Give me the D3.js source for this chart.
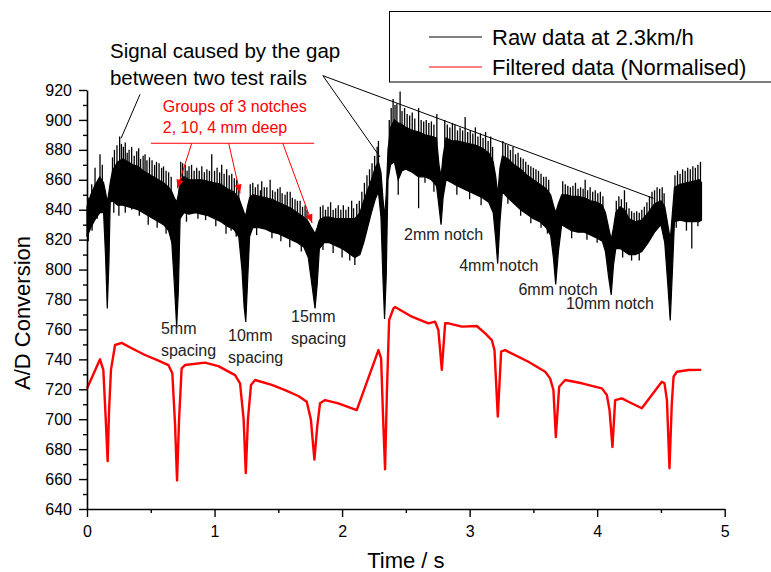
<!DOCTYPE html>
<html>
<head>
<meta charset="utf-8">
<script src="https://cdn.jsdelivr.net/npm/d3@7"></script>
<style>
    body { margin: 0; background: #fff; }
    #chart { width: 771px; height: 572px; }
    text { font-family: "Liberation Sans", Arial, sans-serif; }
</style>
</head>
<body>
<div id="chart"></div>
<script>

// raw signal: dense noise band (top / bottom edge) ...
const bandTime = [0.000, 0.030, 0.060, 0.100, 0.130, 0.145, 0.159, 0.172, 0.182, 0.200, 0.240, 0.280, 0.320, 0.360, 0.400, 0.440,
    0.480, 0.520, 0.560, 0.600, 0.640, 0.665, 0.685, 0.703, 0.716, 0.730, 0.760, 0.800, 0.850, 0.900, 0.950, 1.000,
    1.050, 1.100, 1.150, 1.190, 1.215, 1.232, 1.245, 1.258, 1.275, 1.300, 1.350, 1.400, 1.450, 1.500, 1.550, 1.600,
    1.650, 1.700, 1.735, 1.760, 1.788, 1.805, 1.822, 1.860, 1.900, 1.950, 2.000, 2.050, 2.100, 2.140, 2.170, 2.200,
    2.230, 2.260, 2.285, 2.305, 2.320, 2.333, 2.346, 2.360, 2.380, 2.410, 2.440, 2.470, 2.500, 2.550, 2.600, 2.650,
    2.700, 2.740, 2.760, 2.776, 2.792, 2.815, 2.860, 2.900, 2.950, 3.000, 3.050, 3.100, 3.150, 3.185, 3.205, 3.220,
    3.238, 3.257, 3.300, 3.350, 3.400, 3.450, 3.500, 3.550, 3.600, 3.635, 3.657, 3.675, 3.696, 3.722, 3.760, 3.800,
    3.850, 3.900, 3.950, 4.000, 4.040, 4.065, 4.090, 4.110, 4.128, 4.146, 4.180, 4.215, 4.250, 4.300, 4.350, 4.400,
    4.450, 4.500, 4.530, 4.554, 4.573, 4.590, 4.606, 4.650, 4.700, 4.750, 4.800, 4.818];
const bandTop = [842, 850, 856, 862, 858, 852, 845, 852, 858, 866, 872, 874, 872, 870, 869, 866,
    864, 862, 860, 858, 855, 852, 848, 845, 850, 860, 862, 860, 860, 860, 859, 858,
    857, 854, 852, 848, 842, 838, 836, 842, 848, 850, 849, 848, 847, 845, 843, 841,
    838, 835, 832, 828, 824, 828, 833, 835, 835, 834, 834, 834, 834, 838, 846, 853,
    860, 868, 872, 865, 848, 835, 850, 880, 895, 900, 898, 897, 895, 893, 892, 890,
    889, 888, 870, 862, 876, 888, 886, 886, 885, 884, 883, 881, 878, 872, 862, 850,
    868, 876, 874, 870, 867, 863, 860, 857, 854, 850, 843, 838, 844, 850, 850, 849,
    849, 848, 846, 845, 843, 838, 828, 820, 828, 838, 842, 840, 834, 832, 833, 838,
    844, 846, 842, 830, 820, 838, 855, 857, 858, 859, 860, 858];
const bandBottom = [822, 828, 833, 838, 838, 810, 774, 805, 845, 846, 843, 843, 842, 841, 840, 838,
    836, 834, 832, 830, 826, 818, 790, 762, 785, 834, 838, 837, 838, 837, 836, 834,
    832, 829, 827, 822, 800, 775, 765, 790, 822, 828, 828, 827, 825, 824, 822, 820,
    818, 815, 808, 792, 774, 790, 814, 818, 818, 816, 814, 811, 808, 810, 818, 828,
    838, 847, 852, 835, 795, 767, 795, 860, 870, 872, 860, 866, 867, 865, 862, 862,
    860, 856, 842, 830, 848, 860, 858, 856, 854, 852, 850, 848, 845, 838, 820, 804,
    832, 852, 848, 844, 840, 837, 834, 832, 828, 823, 808, 790, 812, 830, 828, 826,
    825, 825, 823, 821, 819, 812, 795, 783, 803, 814, 814, 812, 810, 810, 812, 818,
    825, 830, 818, 790, 766, 799, 832, 833, 832, 832, 832, 833];

// ... and the single noise spikes sticking out of it
const upSpikeTime = [0.010, 0.037, 0.063, 0.102, 0.120, 0.200, 0.215, 0.235, 0.256, 0.270, 0.285, 0.300, 0.315, 0.330, 0.350, 0.370,
    0.390, 0.405, 0.420, 0.440, 0.455, 0.470, 0.490, 0.510, 0.530, 0.545, 0.565, 0.585, 0.600, 0.620, 0.640, 0.660,
    0.735, 0.750, 0.770, 0.785, 0.800, 0.820, 0.840, 0.860, 0.880, 0.900, 0.920, 0.940, 0.960, 0.978, 1.000, 1.020,
    1.040, 1.056, 1.075, 1.095, 1.115, 1.135, 1.155, 1.174, 1.190, 1.280, 1.300, 1.320, 1.340, 1.360, 1.370, 1.390,
    1.410, 1.436, 1.455, 1.475, 1.495, 1.514, 1.530, 1.553, 1.570, 1.593, 1.610, 1.631, 1.650, 1.671, 1.690, 1.710,
    1.725, 1.830, 1.850, 1.870, 1.890, 1.910, 1.930, 1.950, 1.970, 1.990, 2.010, 2.030, 2.050, 2.075, 2.090, 2.115,
    2.135, 2.155, 2.175, 2.195, 2.215, 2.235, 2.255, 2.275, 2.285, 2.370, 2.385, 2.400, 2.415, 2.430, 2.455, 2.470,
    2.490, 2.510, 2.530, 2.550, 2.570, 2.600, 2.620, 2.640, 2.660, 2.680, 2.700, 2.720, 2.743, 2.805, 2.825, 2.845,
    2.865, 2.885, 2.905, 2.925, 2.945, 2.965, 2.985, 3.005, 3.025, 3.045, 3.065, 3.085, 3.105, 3.125, 3.145, 3.165,
    3.180, 3.260, 3.280, 3.300, 3.320, 3.340, 3.360, 3.380, 3.400, 3.420, 3.440, 3.460, 3.480, 3.500, 3.520, 3.540,
    3.560, 3.580, 3.600, 3.620, 3.730, 3.750, 3.770, 3.790, 3.810, 3.830, 3.850, 3.870, 3.890, 3.906, 3.925, 3.945,
    3.965, 3.985, 4.005, 4.025, 4.045, 4.150, 4.170, 4.190, 4.214, 4.230, 4.250, 4.270, 4.290, 4.310, 4.330, 4.350,
    4.370, 4.390, 4.410, 4.430, 4.450, 4.470, 4.490, 4.510, 4.525, 4.610, 4.630, 4.650, 4.670, 4.690, 4.710, 4.730,
    4.750, 4.770, 4.790, 4.810];
const upSpikeValue = [848, 857, 868, 877, 870, 875, 880, 883, 889, 884, 882, 885, 878, 880, 882, 876,
    879, 881, 874, 876, 877, 873, 875, 873, 870, 872, 871, 868, 869, 866, 865, 862,
    872, 871, 870, 866, 869, 870, 866, 868, 866, 869, 865, 867, 866, 877, 866, 868,
    865, 870, 864, 867, 863, 864, 861, 860, 856, 857, 858, 855, 857, 853, 859, 855,
    855, 860, 853, 852, 854, 855, 851, 850, 852, 852, 848, 847, 846, 846, 842, 843,
    840, 842, 843, 840, 842, 845, 840, 841, 843, 840, 843, 840, 842, 846, 841, 844,
    846, 852, 858, 863, 867, 871, 876, 882, 886, 900, 908, 914, 910, 911, 919, 906,
    908, 904, 903, 905, 901, 908, 900, 899, 900, 898, 899, 897, 904, 900, 897, 895,
    898, 897, 893, 895, 893, 902, 892, 893, 891, 895, 889, 891, 888, 892, 886, 889,
    882, 886, 884, 883, 880, 882, 877, 878, 875, 874, 872, 870, 869, 868, 867, 866,
    864, 862, 862, 860, 859, 857, 856, 855, 856, 858, 854, 855, 854, 860, 853, 855,
    852, 853, 851, 852, 849, 846, 849, 847, 853, 845, 841, 839, 838, 839, 838, 840,
    842, 845, 849, 852, 853, 855, 854, 855, 851, 863, 866, 864, 867, 866, 868, 867,
    869, 868, 870, 872];
const downSpikeTime = [0.010, 0.040, 0.080, 0.210, 0.250, 0.300, 0.350, 0.410, 0.480, 0.550, 0.620, 0.780, 0.870, 0.930, 1.010, 1.090,
    1.130, 1.170, 1.330, 1.450, 1.520, 1.590, 1.680, 1.850, 1.930, 2.000, 2.060, 2.100, 2.440, 2.600, 2.650, 2.720,
    2.900, 3.000, 3.090, 3.300, 3.400, 3.480, 3.560, 3.610, 3.800, 3.920, 4.000, 4.200, 4.270, 4.330, 4.620, 4.700,
    4.742, 4.790];
const downSpikeValue = [819, 826, 834, 838, 836, 838, 840, 836, 830, 828, 824, 832, 834, 833, 829, 824,
    826, 822, 823, 821, 819, 815, 812, 813, 811, 808, 806, 803, 850, 841, 858, 852,
    850, 847, 843, 844, 836, 831, 828, 824, 821, 820, 818, 808, 806, 806, 828, 826,
    814, 829];

// filtered (normalised) signal
const filtTime = [0.000, 0.050, 0.102, 0.128, 0.146, 0.162, 0.173, 0.188, 0.220, 0.272, 0.350, 0.455, 0.547, 0.638, 0.669, 0.690,
    0.706, 0.722, 0.742, 0.769, 0.925, 1.030, 1.161, 1.200, 1.228, 1.245, 1.262, 1.286, 1.318, 1.449, 1.553, 1.657, 1.723,
    1.755, 1.783, 1.805, 1.827, 1.867, 1.970, 2.115, 2.285, 2.306, 2.322, 2.337, 2.352, 2.369, 2.403, 2.416, 2.547, 2.677,
    2.729, 2.755, 2.782, 2.808, 2.834, 2.939, 3.056, 3.122, 3.174, 3.195, 3.221, 3.247, 3.278, 3.461, 3.592, 3.631, 3.657,
    3.676, 3.702, 3.749, 3.880, 4.037, 4.076, 4.097, 4.120, 4.141, 4.194, 4.245, 4.350, 4.507, 4.528, 4.547, 4.567, 4.585,
    4.599, 4.625, 4.716, 4.816];
const filtValue = [720.6, 730, 740, 733, 701.7, 672, 706, 733, 749.6, 751, 747.4, 742.9, 739.6, 736.2, 730.7, 697.2,
    659, 700, 734, 736.2, 737.8, 735.5, 729.5, 724, 700, 664, 700, 722.9, 726.2, 722.9, 719.5, 715.5, 711.7,
    700, 673, 695, 710.6, 712.8, 710.6, 706.1, 746.2, 740.7, 700, 666.5, 720, 766.3, 774.1, 775, 768.5, 764.1,
    765.2, 759.6, 733, 764.1, 764.1, 761.9, 762.3, 757.4, 752.9, 746.2, 701.7, 745.1, 746.2, 738.4, 731.7, 727.3, 719.5,
    688, 721.7, 726.2, 724, 720.6, 716.2, 706.1, 681.4, 712.8, 713.9, 711.7, 707.3, 725, 724, 712.8, 667.2, 710,
    728.4, 731.7, 732.9, 733];

const xTicks = [0, 1, 2, 3, 4, 5];
const xMinorTicks = [0.5, 1.5, 2.5, 3.5, 4.5];
const yTicks = [640, 660, 680, 700, 720, 740, 760, 780, 800, 820, 840, 860, 880, 900, 920];
const yMinorTicks = [650, 670, 690, 710, 730, 750, 770, 790, 810, 830, 850, 870, 890, 910];
const seriesNames = ["Raw data at 2.3km/h", "Filtered data (Normalised)"];
const seriesColors = ["#000000", "#ff0000"];

class SignalChart {

    constructor(parentElement) {
        this.parentElement = parentElement;
        this.initVis();
    }

    initVis() {
        let vis = this;

        vis.margin = {top: 90, right: 46.3, bottom: 63, left: 87};
        vis.width = 771 - vis.margin.left - vis.margin.right;
        vis.height = 572 - vis.margin.top - vis.margin.bottom;

        vis.root = d3.select("#" + vis.parentElement)
            .append("svg")
            .attr("width", 771)
            .attr("height", 572);

        vis.svg = vis.root.append("g")
            .attr("transform", `translate(${vis.margin.left}, ${vis.margin.top})`);

        vis.x = d3.scaleLinear().domain([0, 5]).range([0, vis.width]);
        vis.y = d3.scaleLinear().domain([640, 920]).range([vis.height, 0]);

        vis.band = bandTime.map((t, i) => ({t: t, hi: bandTop[i], lo: bandBottom[i]}));
        vis.filtData = filtTime.map((t, i) => ({t: t, v: filtValue[i]}));

        // band edge lookup, so a spike starts from the band it sticks out of
        const topAt = d3.scaleLinear().domain(bandTime).range(bandTop);
        const bottomAt = d3.scaleLinear().domain(bandTime).range(bandBottom);

        // raw signal band
        vis.svg.append("path")
            .datum(vis.band)
            .attr("fill", seriesColors[0])
            .attr("stroke", seriesColors[0])
            .attr("stroke-width", 1.2)
            .attr("d", d3.area()
                .x(d => vis.x(d.t))
                .y0(d => vis.y(d.lo))
                .y1(d => vis.y(d.hi)));

        const spikes = upSpikeTime.map((t, i) => ({t: t, from: topAt(t) - 2, to: upSpikeValue[i]}))
            .concat(downSpikeTime.map((t, i) => ({t: t, from: bottomAt(t) + 2, to: downSpikeValue[i]})));

        vis.svg.selectAll("line.spike")
            .data(spikes)
            .enter()
            .append("line")
            .attr("class", "spike")
            .attr("x1", d => vis.x(d.t)).attr("x2", d => vis.x(d.t))
            .attr("y1", d => vis.y(d.from)).attr("y2", d => vis.y(d.to))
            .attr("stroke", seriesColors[0])
            .attr("stroke-width", 1.3);

        // filtered line
        vis.svg.append("path")
            .datum(vis.filtData)
            .attr("fill", "none")
            .attr("stroke", seriesColors[1])
            .attr("stroke-width", 2.4)
            .attr("stroke-linejoin", "round")
            .attr("d", d3.line()
                .x(d => vis.x(d.t))
                .y(d => vis.y(d.v)));

        // axes
        vis.svg.append("g")
            .call(d3.axisLeft(vis.y).tickValues(yTicks).tickSize(8).tickSizeOuter(0).tickPadding(7));
        vis.svg.append("g")
            .call(d3.axisLeft(vis.y).tickValues(yMinorTicks).tickSize(4).tickFormat(""))
            .select(".domain").remove();
        vis.svg.append("g")
            .attr("transform", `translate(0, ${vis.height})`)
            .call(d3.axisBottom(vis.x).tickValues(xTicks).tickFormat(d3.format("d"))
                .tickSize(8).tickSizeOuter(0).tickPadding(9));
        vis.svg.append("g")
            .attr("transform", `translate(0, ${vis.height})`)
            .call(d3.axisBottom(vis.x).tickValues(xMinorTicks).tickSize(4).tickFormat(""))
            .select(".domain").remove();

        vis.svg.selectAll(".domain").attr("stroke-width", 1.6);
        vis.svg.selectAll(".tick line").attr("stroke-width", 1.4);
        vis.svg.selectAll(".tick text")
            .attr("font-size", "16px")
            .attr("font-family", "'Liberation Sans', Arial, sans-serif")
            .attr("fill", "#000");

        // axis titles
        vis.root.append("text")
            .attr("x", vis.margin.left + vis.width / 2)
            .attr("y", 568)
            .attr("text-anchor", "middle")
            .attr("font-size", "22px")
            .text("Time / s");

        vis.root.append("text")
            .attr("transform", "translate(30, 313) rotate(-90)")
            .attr("text-anchor", "middle")
            .attr("font-size", "22px")
            .text("A/D Conversion");

        // legend
        const legend = vis.root.append("g").attr("class", "legend");
        legend.append("rect")
            .attr("x", 389.5).attr("y", 11.5)
            .attr("width", 420).attr("height", 70.5)
            .attr("fill", "#fff")
            .attr("stroke", "#000")
            .attr("stroke-width", 1);
        seriesNames.forEach((name, i) => {
            legend.append("line")
                .attr("x1", 429).attr("x2", 482)
                .attr("y1", 37 + i * 30).attr("y2", 37 + i * 30)
                .attr("stroke", seriesColors[i])
                .attr("stroke-width", 1);
            legend.append("text")
                .attr("x", 492).attr("y", 45 + i * 30)
                .attr("font-size", "22px")
                .text(name);
        });

        // black annotations
        const note = vis.svg.append("g").attr("class", "notes");
        note.append("text")
            .attr("font-size", "20.5px")
            .selectAll("tspan")
            .data(["Signal caused by the gap", "between two test rails"])
            .enter()
            .append("tspan")
            .attr("x", vis.x(0.18))
            .attr("y", (d, i) => vis.y(i === 0 ? 941.4 : 923.3))
            .text(d => d);

        const pointers = [
            [[0.416, 917.1], [0.267, 887.7]],
            [[1.849, 929.6], [2.298, 875.2]],
            [[1.849, 929.6], [4.442, 847.6]]
        ];
        note.selectAll("line.pointer")
            .data(pointers)
            .enter()
            .append("line")
            .attr("class", "pointer")
            .attr("x1", d => vis.x(d[0][0])).attr("y1", d => vis.y(d[0][1]))
            .attr("x2", d => vis.x(d[1][0])).attr("y2", d => vis.y(d[1][1]))
            .attr("stroke", "#000")
            .attr("stroke-width", 1);

        const labels = [
            {t: 0.580, v: [756.9, 742.2], lines: ["5mm", "spacing"]},
            {t: 1.106, v: [752.3, 737.6], lines: ["10mm", "spacing"]},
            {t: 1.600, v: [765.0, 750.3], lines: ["15mm", "spacing"]},
            {t: 2.486, v: [819.8], lines: ["2mm notch"]},
            {t: 2.918, v: [799.0], lines: ["4mm notch"]},
            {t: 3.383, v: [783.0], lines: ["6mm notch"]},
            {t: 3.755, v: [773.6], lines: ["10mm notch"]}
        ];
        labels.forEach(l => {
            l.lines.forEach((s, i) => {
                note.append("text")
                    .attr("x", vis.x(l.t))
                    .attr("y", vis.y(l.v[i]))
                    .attr("font-size", "16px")
                    .attr("fill", "#222")
                    .text(s);
            });
        });

        // red annotation
        vis.root.append("defs").append("marker")
            .attr("id", "arrow")
            .attr("viewBox", "0 -4 10 8")
            .attr("refX", 10).attr("refY", 0)
            .attr("markerUnits", "userSpaceOnUse")
            .attr("markerWidth", 10).attr("markerHeight", 7)
            .attr("orient", "auto")
            .append("path")
            .attr("d", "M0,-4L10,0L0,4Z")
            .attr("fill", "#ff0000");

        const red = vis.svg.append("g").attr("class", "red-notes");
        red.append("text")
            .attr("font-size", "16px")
            .attr("fill", "#ff0000")
            .selectAll("tspan")
            .data(["Groups of 3 notches", "2, 10, 4 mm deep"])
            .enter()
            .append("tspan")
            .attr("x", vis.x(0.594))
            .attr("y", (d, i) => vis.y(i === 0 ? 905.3 : 891.3))
            .text(d => d);

        red.append("line")
            .attr("x1", vis.x(0.502)).attr("x2", vis.x(1.78))
            .attr("y1", vis.y(884.4)).attr("y2", vis.y(884.4))
            .attr("stroke", "#ff0000")
            .attr("stroke-width", 1);

        const arrows = [
            [0.821, 0.708, 854.3],
            [1.111, 1.200, 851.0],
            [1.535, 1.765, 831.1]
        ];
        red.selectAll("line.arrow")
            .data(arrows)
            .enter()
            .append("line")
            .attr("class", "arrow")
            .attr("x1", d => vis.x(d[0])).attr("y1", vis.y(884.4))
            .attr("x2", d => vis.x(d[1])).attr("y2", d => vis.y(d[2]))
            .attr("stroke", "#ff0000")
            .attr("stroke-width", 1)
            .attr("marker-end", "url(#arrow)");
    }
}

new SignalChart("chart");

</script>
</body>
</html>
